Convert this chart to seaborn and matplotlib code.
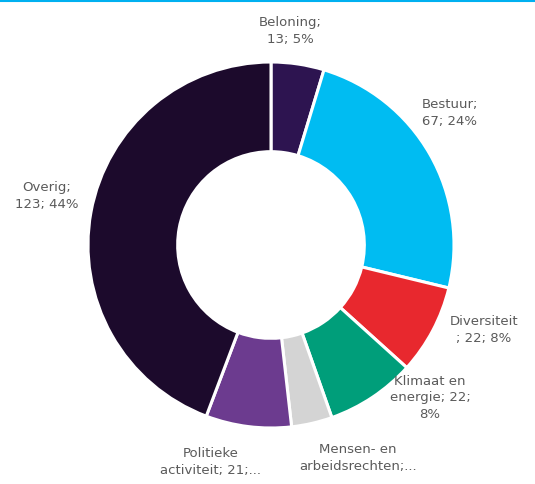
import matplotlib
matplotlib.use("Agg")
import matplotlib.pyplot as plt
import seaborn as sns

categories = ["Beloning", "Bestuur", "Diversiteit", "Klimaat en energie",
              "Mensen- en arbeidsrechten", "Politieke activiteit", "Overig"]
values = [13, 67, 22, 22, 10, 21, 123]
labels = ["Beloning;\n13; 5%", "Bestuur;\n67; 24%", "Diversiteit\n; 22; 8%",
          "Klimaat en\nenergie; 22;\n8%", "Mensen- en\narbeidsrechten;...",
          "Politieke\nactiviteit; 21;...", "Overig;\n123; 44%"]
colors = ["#2d1450", "#00bcf2", "#e8282e", "#009e7a", "#d4d4d4", "#6c3b8f", "#1c0a2c"]

sns.set_style("white")
plt.rcParams['font.family'] = ['DejaVu Sans']

W, H = 535, 484
fig = plt.figure(figsize=(W/100, H/100), dpi=100)
cx, cy, r = 271, 245, 183
ax = fig.add_axes([(cx - r)/W, (H - cy - r)/H, 2*r/W, 2*r/H])
ax.axis("off")

ax.pie(values, colors=colors, startangle=90, counterclock=False, radius=1,
       wedgeprops=dict(width=0.49, edgecolor="white", linewidth=2.2))
ax.set_xlim(-1, 1)
ax.set_ylim(-1, 1)
ax.set_aspect("auto")

# label positions in pixel coords (center)
label_pos = [(290, 31), (450, 113), (484, 330),
             (430, 398), (358, 458), (211, 462),
             (47, 196)]
for lab, (px, py) in zip(labels, label_pos):
    fig.text(px/W, 1 - py/H, lab, ha="center", va="center", fontsize=9.5,
             color="#5a5a5a", linespacing=1.35)

# top border line
fig.add_artist(plt.Line2D([0, 1], [1 - 1/H, 1 - 1/H], color="#00b0f0", lw=1.5))

fig.savefig("out.png", dpi=100, facecolor="white")
